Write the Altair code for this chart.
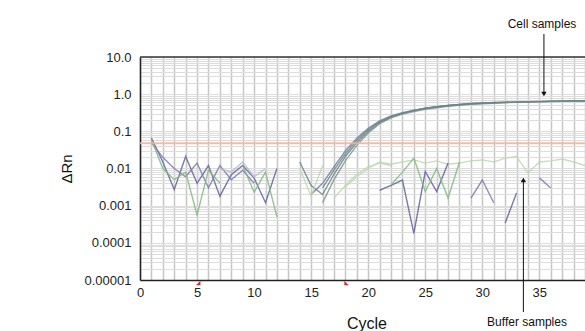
import altair as alt
import pandas as pd

# ---- data ----
cell_a_cycles = list(range(14, 40))
cell_a = [0.015, 0.0035, 0.002, 0.007, 0.021, 0.05, 0.1, 0.17, 0.24, 0.3, 0.36, 0.42, 0.46, 0.5,
          0.53, 0.56, 0.58, 0.6, 0.61, 0.62, 0.63, 0.64, 0.65, 0.65, 0.66, 0.66]
cell_b_cycles = list(range(15, 40))
cell_b = [0.002, 0.004, 0.011, 0.03, 0.065, 0.12, 0.19, 0.26, 0.32, 0.37, 0.42, 0.46, 0.5,
          0.53, 0.55, 0.57, 0.59, 0.6, 0.61, 0.62, 0.63, 0.64, 0.65, 0.65, 0.66]
cell_c_cycles = list(range(16, 40))
cell_c = [0.0012, 0.005, 0.016, 0.042, 0.09, 0.16, 0.23, 0.29, 0.34, 0.39, 0.43, 0.47,
          0.5, 0.53, 0.55, 0.57, 0.59, 0.6, 0.61, 0.62, 0.63, 0.64, 0.64, 0.65]
cell_d_cycles = list(range(16, 40))
cell_d = [0.003, 0.009, 0.025, 0.058, 0.11, 0.18, 0.25, 0.31, 0.36, 0.41, 0.45, 0.49,
          0.52, 0.55, 0.57, 0.59, 0.6, 0.61, 0.62, 0.63, 0.64, 0.65, 0.66, 0.67]

buf_light_cycles = list(range(18, 40))
buf_light = [0.0032, 0.006, 0.01, 0.015, 0.013, 0.015, 0.017, 0.014, 0.016, 0.013, 0.014, 0.016,
             0.017, 0.015, 0.019, 0.021, 0.0076, 0.015, 0.016, 0.018, 0.015, 0.012]
buf_light2_cycles = list(range(17, 23))
buf_light2 = [0.0016, 0.0035, 0.007, 0.011, 0.014, 0.012]

noise_p1_cycles = list(range(1, 13))
noise_p1 = [0.066, 0.015, 0.0027, 0.021, 0.004, 0.012, 0.0018, 0.0068, 0.012, 0.0055, 0.0012, 0.01]
noise_p2_cycles = list(range(1, 11))
noise_p2 = [0.05, 0.02, 0.01, 0.006, 0.014, 0.003, 0.012, 0.005, 0.009, 0.004]
noise_g1_cycles = list(range(1, 8))
noise_g1 = [0.06, 0.01, 0.005, 0.008, 0.00056, 0.009, 0.004]
noise_g2_cycles = list(range(9, 13))
noise_g2 = [0.012, 0.0023, 0.008, 0.0005]
noise_l1_cycles = list(range(7, 12))
noise_l1 = [0.01, 0.008, 0.015, 0.006, 0.01]
noise_g3_cycles = list(range(14, 17))
noise_g3 = [0.01, 0.0018, 0.012]

noise_p3_cycles = list(range(21, 28))
noise_p3 = [0.0026, 0.0035, 0.0049, 0.00018, 0.0083, 0.0024, 0.014]
noise_g4_cycles = list(range(22, 29))
noise_g4 = [0.0036, 0.008, 0.019, 0.0024, 0.01, 0.0016, 0.015]
noise_p4_cycles = [29, 30, 31]
noise_p4 = [0.0016, 0.0049, 0.0012]
noise_p5_cycles = [32, 33]
noise_p5 = [0.00034, 0.0022]
noise_p6_cycles = [35, 36]
noise_p6 = [0.0056, 0.003]

threshold = 0.048
cell_arrow_cycle = 35.4
buffer_arrow_cycle = 33.6
marker_cycles = [5.1, 18.1]

segments = [
    ("cell_a", "cell1", cell_a_cycles, cell_a),
    ("cell_b", "cell2", cell_b_cycles, cell_b),
    ("cell_c", "cell3", cell_c_cycles, cell_c),
    ("cell_d", "cell1", cell_d_cycles, cell_d),
    ("bl1", "light", buf_light_cycles, buf_light),
    ("bl2", "light", buf_light2_cycles, buf_light2),
    ("p1", "purple", noise_p1_cycles, noise_p1),
    ("p2", "purple2", noise_p2_cycles, noise_p2),
    ("g1", "green", noise_g1_cycles, noise_g1),
    ("g2", "green", noise_g2_cycles, noise_g2),
    ("l1", "lav", noise_l1_cycles, noise_l1),
    ("g3", "light", noise_g3_cycles, noise_g3),
    ("p3", "purple", noise_p3_cycles, noise_p3),
    ("g4", "green", noise_g4_cycles, noise_g4),
    ("p4", "purple2", noise_p4_cycles, noise_p4),
    ("p5", "purple", noise_p5_cycles, noise_p5),
    ("p6", "purple2", noise_p6_cycles, noise_p6),
]
rows = []
for sid, grp, cs, vs in segments:
    for c, v in zip(cs, vs):
        rows.append({"seg": sid, "grp": grp, "cycle": c, "value": v})
df = pd.DataFrame(rows)

group_names = ["cell1", "cell2", "cell3", "light", "purple", "purple2", "green", "lav"]
group_colors = ["#6a8584", "#707ea0", "#7a948e", "#bcd8ae", "#6261a0", "#7d7bb0", "#82b882", "#bab8d2"]

x_ticks = list(range(0, 40))
y_grid = []
for d in range(-5, 1):
    for m in range(1, 10):
        y_grid.append(float(f"{m}e{d}"))
y_grid.append(10.0)

W, H = 445, 223
FONT = "Liberation Sans"

x_axis = alt.Axis(values=x_ticks, title=None, ticks=False, grid=True, gridColor="#c6c6c6",
                  gridWidth=1.5, domainColor="#222", domainWidth=1.5, labelFont=FONT,
                  labelFontSize=13, labelColor="#222", labelPadding=6,
                  labelOverlap=False, labelFlush=False,
                  labelExpr="datum.value % 5 == 0 ? datum.label : ''")
y_axis = alt.Axis(values=y_grid, title=None, ticks=False, grid=True, gridColor="#dddddd",
                  gridWidth=1, domainColor="#222", domainWidth=1.5, labelFont=FONT,
                  labelFontSize=13, labelColor="#222", labelPadding=9,
                  labelOverlap=False, labelFlush=False,
                  labelExpr="abs(log(datum.value)/LN10 - round(log(datum.value)/LN10)) < 0.001 ? (datum.value >= 1 ? format(datum.value, '.1f') : format(datum.value, '.5~f')) : ''")
x_scale = alt.Scale(domain=[0, 39], nice=False, zero=False)
y_scale = alt.Scale(type="log", domain=[0.00001, 10], nice=False)
xs = alt.X("cycle:Q", scale=x_scale, axis=x_axis)
ys = alt.Y("value:Q", scale=y_scale, axis=y_axis)

lines = alt.Chart(df).mark_line(strokeWidth=1.4, opacity=0.85, clip=True).encode(
    x=xs, y=ys, detail="seg:N",
    color=alt.Color("grp:N", scale=alt.Scale(domain=group_names, range=group_colors), legend=None),
    order="cycle:Q",
)

thr = alt.Chart(pd.DataFrame({"value": [threshold]})).mark_rule(
    color="#f4b49c", strokeWidth=2, opacity=0.85).encode(y=ys)

top_border = alt.Chart().mark_rule(color="#333", strokeWidth=1.5).encode(
    x=alt.value(0), x2=alt.value(W), y=alt.value(0))

def txt(s, x, y, size):
    return alt.Chart().mark_text(text=s, font=FONT, fontSize=size, color="#111", align="center",
                                 baseline="alphabetic").encode(x=alt.value(x), y=alt.value(y))

cycle_title = txt("Cycle", 227, 272, 16)
rn_title = alt.Chart().mark_text(text="ΔRn", font=FONT, fontSize=15, color="#111", align="center",
                                 baseline="middle", angle=270).encode(x=alt.value(-73), y=alt.value(112))
cell_lbl = txt("Cell samples", 402, -29, 12)
buf_lbl = txt("Buffer samples", 387, 269, 12)

cell_df = pd.DataFrame({"cycle": [cell_arrow_cycle]})
buf_df = pd.DataFrame({"cycle": [buffer_arrow_cycle]})
cell_arrow = alt.Chart(cell_df).mark_rule(color="#111", strokeWidth=1).encode(
    x=xs, y=alt.value(-23), y2=alt.value(36))
cell_head = alt.Chart(cell_df).mark_point(shape="triangle-down", filled=True, color="#111", size=30, opacity=1).encode(
    x=xs, y=alt.value(37))
buf_arrow = alt.Chart(buf_df).mark_rule(color="#111", strokeWidth=1).encode(
    x=xs, y=alt.value(255), y2=alt.value(124))
buf_head = alt.Chart(buf_df).mark_point(shape="triangle-up", filled=True, color="#111", size=30, opacity=1).encode(
    x=xs, y=alt.value(123))

red1 = alt.Chart(pd.DataFrame({"cycle": [marker_cycles[0]]})).mark_point(
    shape="M-1,1L1,1L1,-1Z", filled=True, color="#e0262a", size=20, opacity=1).encode(x=xs, y=alt.value(226))
red2 = alt.Chart(pd.DataFrame({"cycle": [marker_cycles[1]]})).mark_point(
    shape="M-1,1L1,1L-1,-1Z", filled=True, color="#e0262a", size=20, opacity=1).encode(x=xs, y=alt.value(226))

chart = alt.layer(
    lines, thr, top_border, cycle_title, rn_title, cell_lbl, buf_lbl,
    cell_arrow, cell_head, buf_arrow, buf_head, red1, red2,
).properties(
    width=W, height=H, autosize="none",
    padding={"left": 140, "top": 57, "right": 0, "bottom": 51},
).configure_view(strokeWidth=0)

chart.save("out.html", embed_options={"renderer": "svg", "actions": False})
